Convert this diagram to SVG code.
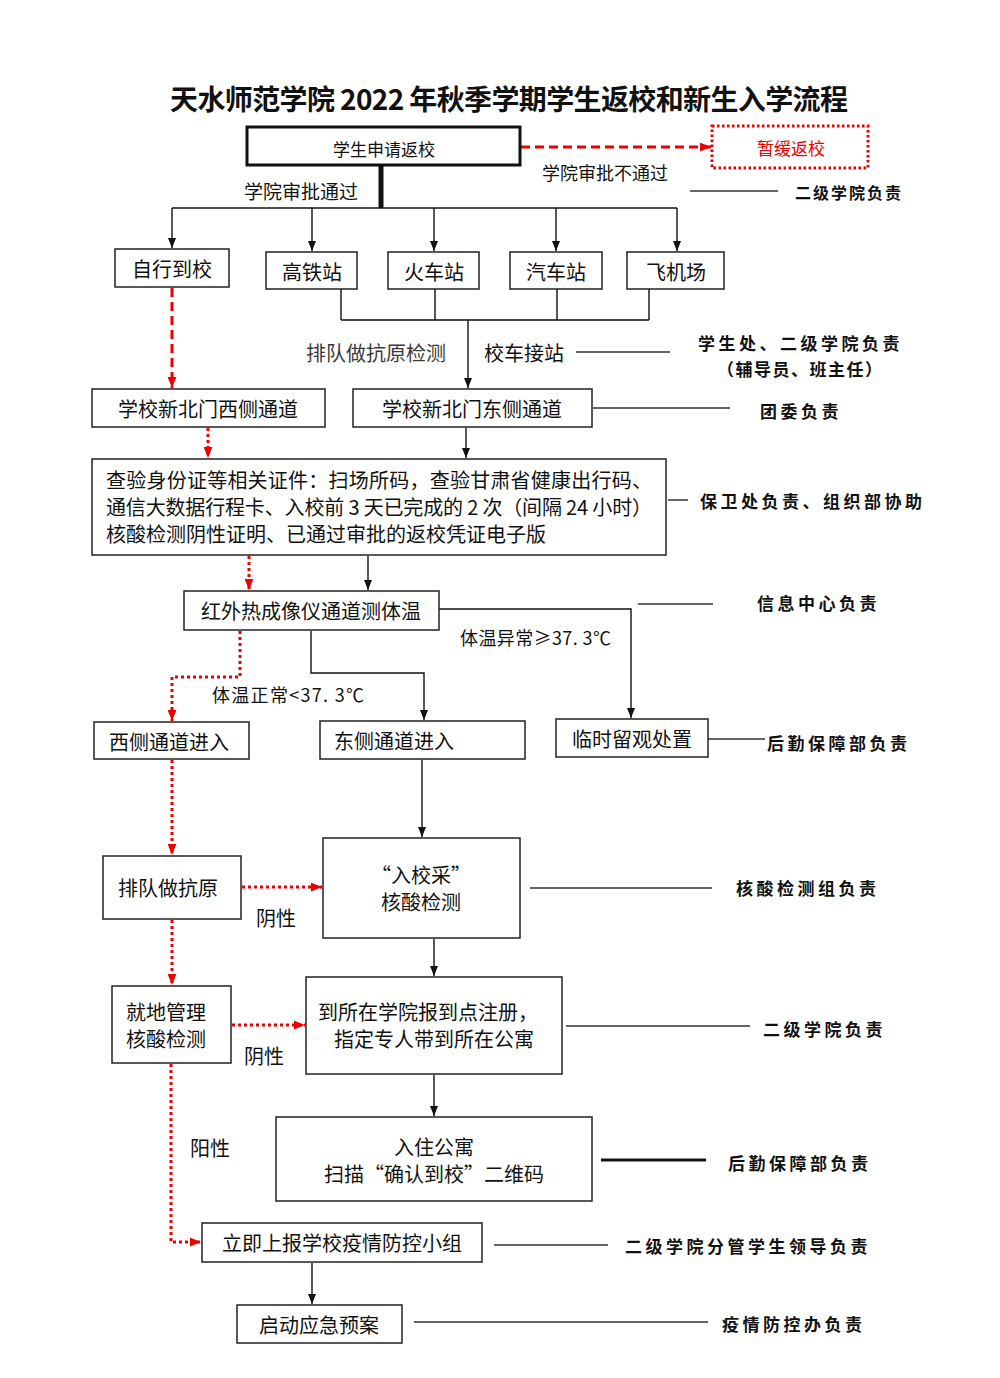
<svg xmlns="http://www.w3.org/2000/svg" width="1000" height="1378" viewBox="0 0 1000 1378">
<defs>
<style>
.bg{fill:#fff}
.box{fill:#fff;stroke:#222;stroke-width:1.5}
.thick{fill:#fff;stroke:#111;stroke-width:3}
.redbox{fill:#fff;stroke:#e00;stroke-width:3;stroke-dasharray:2.5 2.5}
.t{font-family:"Noto Sans CJK SC","Liberation Sans",sans-serif;font-size:20px;fill:#111;dominant-baseline:central}
.s{font-size:17px}
.c{text-anchor:middle}
.title{font-family:"Noto Sans CJK SC","Liberation Serif",serif;font-size:28px;font-weight:bold;fill:#111;dominant-baseline:central;text-anchor:middle}
.lab{font-family:"Noto Sans CJK SC",sans-serif;font-size:17px;font-weight:bold;fill:#111;letter-spacing:3.5px;dominant-baseline:central}
.ln{stroke:#111;stroke-width:1.4;fill:none}
.rd{stroke:#e00;stroke-width:3;fill:none;stroke-dasharray:3 3}
.rdash{stroke:#e00;stroke-width:3;fill:none;stroke-dasharray:9 5}
.gl{stroke:#333;stroke-width:1.5;fill:none}
</style>
<marker id="ab" viewBox="0 0 10 8" refX="10" refY="4" markerWidth="10" markerHeight="8" markerUnits="userSpaceOnUse" orient="auto"><path d="M0,0 L10,4 L0,8 z" fill="#111"/></marker>
<marker id="ar" viewBox="0 0 10 8" refX="10" refY="4" markerWidth="11" markerHeight="9" markerUnits="userSpaceOnUse" orient="auto"><path d="M0,0 L10,4 L0,8 z" fill="#e00"/></marker>
</defs>
<rect class="bg" x="0" y="0" width="1000" height="1378"/>
<text class="title" x="509" y="98" textLength="678">天水师范学院 2022 年秋季学期学生返校和新生入学流程</text>

<g id="connectors">
<line x1="381" y1="165" x2="381" y2="208" stroke="#111" stroke-width="5"/>
<line class="ln" x1="172" y1="208" x2="677" y2="208"/>
<line class="ln" x1="172" y1="208" x2="172" y2="248" marker-end="url(#ab)"/>
<line class="ln" x1="312" y1="208" x2="312" y2="251" marker-end="url(#ab)"/>
<line class="ln" x1="434" y1="208" x2="434" y2="251" marker-end="url(#ab)"/>
<line class="ln" x1="556" y1="208" x2="556" y2="251" marker-end="url(#ab)"/>
<line class="ln" x1="677" y1="208" x2="677" y2="251" marker-end="url(#ab)"/>
<path class="ln" d="M341,289 V320 M435,289 V320 M557,289 V320 M649,289 V320 M341,320 H649"/>
<line class="ln" x1="468" y1="320" x2="468" y2="388" marker-end="url(#ab)"/>
<line class="rdash" x1="521" y1="147" x2="711" y2="147" marker-end="url(#ar)"/>
<line class="rdash" x1="172" y1="288" x2="172" y2="388" stroke-width="2.5" marker-end="url(#ar)"/>
<line class="rd" x1="208" y1="428" x2="208" y2="458" marker-end="url(#ar)"/>
<line class="ln" x1="466" y1="428" x2="466" y2="458" marker-end="url(#ab)"/>
<line class="rd" x1="249" y1="556" x2="249" y2="590" marker-end="url(#ar)"/>
<line class="ln" x1="368" y1="556" x2="368" y2="590" marker-end="url(#ab)"/>
<path class="ln" d="M439,609 H631 V718" marker-end="url(#ab)"/>
<path class="ln" d="M311,631 V673 H424 V720" marker-end="url(#ab)"/>
<path class="rd" d="M240,631 V677 H172 V721" marker-end="url(#ar)"/>
<line class="ln" x1="422" y1="760" x2="422" y2="837" marker-end="url(#ab)"/>
<line class="rd" x1="172" y1="760" x2="172" y2="855" marker-end="url(#ar)"/>
<line class="rd" x1="242" y1="887" x2="322" y2="887" marker-end="url(#ar)"/>
<line class="ln" x1="434" y1="939" x2="434" y2="976" marker-end="url(#ab)"/>
<line class="rd" x1="172" y1="920" x2="172" y2="985" marker-end="url(#ar)"/>
<line class="rd" x1="232" y1="1025" x2="305" y2="1025" marker-end="url(#ar)"/>
<path class="rd" d="M171,1064 V1242 H201" marker-end="url(#ar)"/>
<line class="ln" x1="434" y1="1075" x2="434" y2="1116" marker-end="url(#ab)"/>
<line class="ln" x1="312" y1="1263" x2="312" y2="1304" marker-end="url(#ab)"/>
<line class="gl" x1="690" y1="191" x2="778" y2="191"/>
<line class="gl" x1="576" y1="352" x2="670" y2="352"/>
<line class="gl" x1="593" y1="408" x2="730" y2="408"/>
<line class="gl" x1="668" y1="500" x2="688" y2="500"/>
<line class="gl" x1="638" y1="604" x2="713" y2="604"/>
<line class="gl" x1="708" y1="739" x2="765" y2="739"/>
<line class="gl" x1="530" y1="888" x2="712" y2="888"/>
<line class="gl" x1="566" y1="1026" x2="750" y2="1026"/>
<line x1="601" y1="1160" x2="706" y2="1160" stroke="#111" stroke-width="3"/>
<line class="gl" x1="494" y1="1245" x2="608" y2="1245"/>
<line class="gl" x1="414" y1="1322" x2="708" y2="1322"/>
</g>

<g id="labels">
<text class="t" x="244" y="190" style="font-size:19px">学院审批通过</text>
<text class="t" x="542" y="172" style="font-size:18px">学院审批不通过</text>
<text class="t" x="306" y="352" style="fill:#3a3a3a">排队做抗原检测</text>
<text class="t" x="484" y="352">校车接站</text>
<text class="t" x="460" y="637" style="font-size:18px" textLength="151">体温异常≥37. 3℃</text>
<text class="t" x="212" y="694" style="font-size:18px" textLength="152">体温正常&lt;37. 3℃</text>
<text class="t" x="256" y="917">阴性</text>
<text class="t" x="244" y="1055">阴性</text>
<text class="t" x="190" y="1147">阳性</text>
<text class="lab" x="795" y="192" style="font-size:16px;letter-spacing:2px">二级学院负责</text>
<text class="lab" x="698" y="342">学生处、二级学院负责</text>
<text class="lab" x="717" y="368" style="letter-spacing:1.5px">（辅导员、班主任）</text>
<text class="lab" x="760" y="410">团委负责</text>
<text class="lab" x="700" y="500">保卫处负责、组织部协助</text>
<text class="lab" x="757" y="602">信息中心负责</text>
<text class="lab" x="767" y="742">后勤保障部负责</text>
<text class="lab" x="736" y="887">核酸检测组负责</text>
<text class="lab" x="763" y="1028">二级学院负责</text>
<text class="lab" x="728" y="1162">后勤保障部负责</text>
<text class="lab" x="625" y="1245">二级学院分管学生领导负责</text>
<text class="lab" x="722" y="1323">疫情防控办负责</text>
</g>

<g id="n-apply"><rect class="thick" x="247" y="127" width="273" height="38"/><text class="t s c" x="384" y="148">学生申请返校</text></g>
<g id="n-defer"><rect class="redbox" x="712" y="126" width="156" height="42"/><text class="t s c" x="791" y="147" style="fill:#e00">暂缓返校</text></g>
<g id="n-self"><rect class="box" x="115" y="249" width="114" height="38"/><text class="t c" x="172" y="268">自行到校</text></g>
<g id="n-hsr"><rect class="box" x="266" y="252" width="91" height="37"/><text class="t c" x="312" y="271">高铁站</text></g>
<g id="n-train"><rect class="box" x="388" y="252" width="91" height="37"/><text class="t c" x="434" y="271">火车站</text></g>
<g id="n-bus"><rect class="box" x="510" y="252" width="92" height="37"/><text class="t c" x="556" y="271">汽车站</text></g>
<g id="n-air"><rect class="box" x="627" y="252" width="97" height="37"/><text class="t c" x="676" y="271">飞机场</text></g>
<g id="n-west-gate"><rect class="box" x="92" y="389" width="233" height="38"/><text class="t c" x="208" y="408">学校新北门西侧通道</text></g>
<g id="n-east-gate"><rect class="box" x="353" y="389" width="239" height="38"/><text class="t c" x="472" y="408">学校新北门东侧通道</text></g>
<g id="n-check"><rect class="box" x="92" y="459" width="574" height="96"/>
<text class="t" x="106" y="479" textLength="546">查验身份证等相关证件：扫场所码，查验甘肃省健康出行码、</text>
<text class="t" x="106" y="506" textLength="546">通信大数据行程卡、入校前 3 天已完成的 2 次（间隔 24 小时）</text>
<text class="t" x="106" y="533">核酸检测阴性证明、已通过审批的返校凭证电子版</text></g>
<g id="n-temp"><rect class="box" x="184" y="591" width="255" height="39"/><text class="t c" x="311" y="610">红外热成像仪通道测体温</text></g>
<g id="n-west-in"><rect class="box" x="94" y="722" width="155" height="37"/><text class="t c" x="169" y="741">西侧通道进入</text></g>
<g id="n-east-in"><rect class="box" x="320" y="721" width="205" height="38"/><text class="t" x="334" y="740">东侧通道进入</text></g>
<g id="n-observe"><rect class="box" x="556" y="719" width="152" height="38"/><text class="t c" x="632" y="738">临时留观处置</text></g>
<g id="n-antigen"><rect class="box" x="103" y="856" width="138" height="63"/><text class="t c" x="168" y="887">排队做抗原</text></g>
<g id="n-pcr"><rect class="box" x="323" y="838" width="197" height="100"/><text class="t c" x="421" y="874">“入校采”</text><text class="t c" x="421" y="901">核酸检测</text></g>
<g id="n-local"><rect class="box" x="112" y="986" width="119" height="77"/><text class="t c" x="166" y="1011">就地管理</text><text class="t c" x="166" y="1038">核酸检测</text></g>
<g id="n-register"><rect class="box" x="306" y="977" width="256" height="97"/><text class="t c" x="428" y="1011">到所在学院报到点注册，</text><text class="t c" x="434" y="1038">指定专人带到所在公寓</text></g>
<g id="n-dorm"><rect class="box" x="276" y="1117" width="316" height="84"/><text class="t c" x="434" y="1146">入住公寓</text><text class="t c" x="434" y="1173">扫描“确认到校”二维码</text></g>
<g id="n-report"><rect class="box" x="202" y="1223" width="280" height="39"/><text class="t c" x="342" y="1242">立即上报学校疫情防控小组</text></g>
<g id="n-plan"><rect class="box" x="237" y="1305" width="165" height="38"/><text class="t c" x="319" y="1324">启动应急预案</text></g>
</svg>
